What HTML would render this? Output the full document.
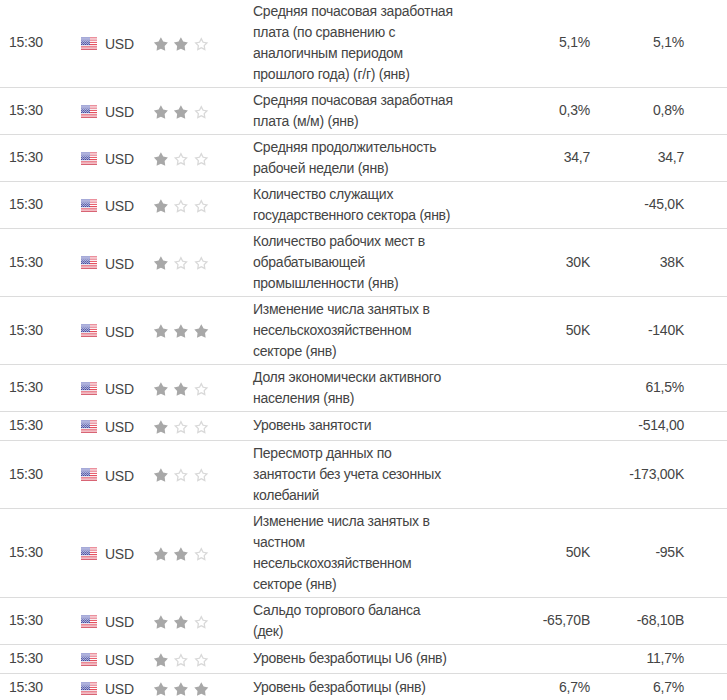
<!DOCTYPE html>
<html><head><meta charset="utf-8"><style>
html,body{margin:0;padding:0;background:#fff;width:727px;height:700px;overflow:hidden;}
body{font-family:"Liberation Sans",sans-serif;font-size:14px;color:#444;position:relative;letter-spacing:-0.25px;}
.r{position:absolute;left:0;width:727px;border-bottom:1px solid #dcdcdc;}
.c{position:absolute;top:0;bottom:0;display:flex;align-items:center;white-space:nowrap;}
.c>span{position:relative;}
.t{left:9px;}
.t>span,.v1>span,.v2>span{top:-1px;}
.f{position:absolute;left:81px;}
.flag,.stars{display:block;}
.cu{left:105px;}
.cu>span{top:1px;}
.s{position:absolute;left:150px;}
.e{left:253px;line-height:21px;display:block;}
.v1{right:137px;}
.v2{right:43px;}
</style></head><body>
<div class="r" style="top:-1px;height:88px"><div class="c t"><span>15:30</span></div><div class="f" style="top:38px"><svg class="flag" width="16" height="13" viewBox="0 0 16 13" shape-rendering="crispEdges"><rect x="0" y="0" width="9" height="1" fill="#a6aad8"/><rect x="9" y="0" width="7" height="1" fill="#eb909d"/><rect x="0" y="1" width="9" height="1" fill="#b0b3dd"/><rect x="9" y="1" width="7" height="1" fill="#f5c5cc"/><rect x="0" y="2" width="9" height="1" fill="#aaadd9"/><rect x="9" y="2" width="7" height="1" fill="#f3bec6"/><rect x="0" y="3" width="1" height="1" fill="#9397cc"/><rect x="1" y="3" width="1" height="1" fill="#a9acd8"/><rect x="2" y="3" width="1" height="1" fill="#9397cc"/><rect x="3" y="3" width="1" height="1" fill="#a9acd8"/><rect x="4" y="3" width="1" height="1" fill="#9397cc"/><rect x="5" y="3" width="1" height="1" fill="#a9acd8"/><rect x="6" y="3" width="1" height="1" fill="#9397cc"/><rect x="7" y="3" width="1" height="1" fill="#a9acd8"/><rect x="8" y="3" width="1" height="1" fill="#9397cc"/><rect x="9" y="3" width="7" height="1" fill="#ec9aa6"/><rect x="0" y="4" width="1" height="1" fill="#b4b8df"/><rect x="1" y="4" width="1" height="1" fill="#7a7fbe"/><rect x="2" y="4" width="1" height="1" fill="#b4b8df"/><rect x="3" y="4" width="1" height="1" fill="#7a7fbe"/><rect x="4" y="4" width="1" height="1" fill="#b4b8df"/><rect x="5" y="4" width="1" height="1" fill="#7a7fbe"/><rect x="6" y="4" width="1" height="1" fill="#b4b8df"/><rect x="7" y="4" width="1" height="1" fill="#7a7fbe"/><rect x="8" y="4" width="1" height="1" fill="#b4b8df"/><rect x="9" y="4" width="7" height="1" fill="#fbeef0"/><rect x="0" y="5" width="1" height="1" fill="#5a5fa8"/><rect x="1" y="5" width="1" height="1" fill="#a3a7d3"/><rect x="2" y="5" width="1" height="1" fill="#5a5fa8"/><rect x="3" y="5" width="1" height="1" fill="#a3a7d3"/><rect x="4" y="5" width="1" height="1" fill="#5a5fa8"/><rect x="5" y="5" width="1" height="1" fill="#a3a7d3"/><rect x="6" y="5" width="1" height="1" fill="#5a5fa8"/><rect x="7" y="5" width="1" height="1" fill="#a3a7d3"/><rect x="8" y="5" width="1" height="1" fill="#5a5fa8"/><rect x="9" y="5" width="7" height="1" fill="#e8606e"/><rect x="0" y="6" width="1" height="1" fill="#b0b3da"/><rect x="1" y="6" width="1" height="1" fill="#6a6fb4"/><rect x="2" y="6" width="1" height="1" fill="#b0b3da"/><rect x="3" y="6" width="1" height="1" fill="#6a6fb4"/><rect x="4" y="6" width="1" height="1" fill="#b0b3da"/><rect x="5" y="6" width="1" height="1" fill="#6a6fb4"/><rect x="6" y="6" width="1" height="1" fill="#b0b3da"/><rect x="7" y="6" width="1" height="1" fill="#6a6fb4"/><rect x="8" y="6" width="1" height="1" fill="#b0b3da"/><rect x="9" y="6" width="7" height="1" fill="#ffffff"/><rect x="0" y="7" width="1" height="1" fill="#474c9e"/><rect x="1" y="7" width="1" height="1" fill="#9a9ed0"/><rect x="2" y="7" width="1" height="1" fill="#474c9e"/><rect x="3" y="7" width="1" height="1" fill="#9a9ed0"/><rect x="4" y="7" width="1" height="1" fill="#474c9e"/><rect x="5" y="7" width="1" height="1" fill="#9a9ed0"/><rect x="6" y="7" width="1" height="1" fill="#474c9e"/><rect x="7" y="7" width="1" height="1" fill="#9a9ed0"/><rect x="8" y="7" width="1" height="1" fill="#474c9e"/><rect x="9" y="7" width="7" height="1" fill="#e4505f"/><rect x="0" y="8" width="9" height="1" fill="#e2e5f2"/><rect x="9" y="8" width="7" height="1" fill="#f9e0e4"/><rect x="0" y="9" width="16" height="1" fill="#ea8894"/><rect x="0" y="10" width="16" height="1" fill="#efaab3"/><rect x="0" y="11" width="16" height="1" fill="#f2bcc4"/><rect x="0" y="12" width="16" height="1" fill="#d86474"/></svg></div><div class="c cu"><span>USD</span></div><div class="s" style="top:36px"><svg class="stars" width="60" height="18" viewBox="150 0 60 18"><path d="M160.90 2.35 L163.22 6.50 L167.89 7.43 L164.66 10.92 L165.22 15.65 L160.90 13.65 L156.58 15.65 L157.14 10.92 L153.91 7.43 L158.58 6.50 Z" fill="#a8a8a8"/><path d="M180.90 2.35 L183.22 6.50 L187.89 7.43 L184.66 10.92 L185.22 15.65 L180.90 13.65 L176.58 15.65 L177.14 10.92 L173.91 7.43 L178.58 6.50 Z" fill="#a8a8a8"/><path d="M201.30 2.35 L203.53 6.63 L208.29 7.43 L204.91 10.87 L205.62 15.65 L201.30 13.50 L196.98 15.65 L197.69 10.87 L194.31 7.43 L199.07 6.63 Z M201.30 5.16 L199.92 7.80 L196.98 8.30 L199.07 10.43 L198.63 13.37 L201.30 12.05 L203.97 13.37 L203.53 10.43 L205.62 8.30 L202.68 7.80 Z" fill="#d9d9d9" fill-rule="evenodd"/></svg></div><div class="c e" style="top:2px">Средняя почасовая заработная<br>плата (по сравнению с<br>аналогичным периодом<br>прошлого года) (г/г) (янв)</div><div class="c v1"><span>5,1%</span></div><div class="c v2"><span>5,1%</span></div></div>
<div class="r" style="top:88px;height:46px"><div class="c t"><span>15:30</span></div><div class="f" style="top:17px"><svg class="flag" width="16" height="13" viewBox="0 0 16 13" shape-rendering="crispEdges"><rect x="0" y="0" width="9" height="1" fill="#a6aad8"/><rect x="9" y="0" width="7" height="1" fill="#eb909d"/><rect x="0" y="1" width="9" height="1" fill="#b0b3dd"/><rect x="9" y="1" width="7" height="1" fill="#f5c5cc"/><rect x="0" y="2" width="9" height="1" fill="#aaadd9"/><rect x="9" y="2" width="7" height="1" fill="#f3bec6"/><rect x="0" y="3" width="1" height="1" fill="#9397cc"/><rect x="1" y="3" width="1" height="1" fill="#a9acd8"/><rect x="2" y="3" width="1" height="1" fill="#9397cc"/><rect x="3" y="3" width="1" height="1" fill="#a9acd8"/><rect x="4" y="3" width="1" height="1" fill="#9397cc"/><rect x="5" y="3" width="1" height="1" fill="#a9acd8"/><rect x="6" y="3" width="1" height="1" fill="#9397cc"/><rect x="7" y="3" width="1" height="1" fill="#a9acd8"/><rect x="8" y="3" width="1" height="1" fill="#9397cc"/><rect x="9" y="3" width="7" height="1" fill="#ec9aa6"/><rect x="0" y="4" width="1" height="1" fill="#b4b8df"/><rect x="1" y="4" width="1" height="1" fill="#7a7fbe"/><rect x="2" y="4" width="1" height="1" fill="#b4b8df"/><rect x="3" y="4" width="1" height="1" fill="#7a7fbe"/><rect x="4" y="4" width="1" height="1" fill="#b4b8df"/><rect x="5" y="4" width="1" height="1" fill="#7a7fbe"/><rect x="6" y="4" width="1" height="1" fill="#b4b8df"/><rect x="7" y="4" width="1" height="1" fill="#7a7fbe"/><rect x="8" y="4" width="1" height="1" fill="#b4b8df"/><rect x="9" y="4" width="7" height="1" fill="#fbeef0"/><rect x="0" y="5" width="1" height="1" fill="#5a5fa8"/><rect x="1" y="5" width="1" height="1" fill="#a3a7d3"/><rect x="2" y="5" width="1" height="1" fill="#5a5fa8"/><rect x="3" y="5" width="1" height="1" fill="#a3a7d3"/><rect x="4" y="5" width="1" height="1" fill="#5a5fa8"/><rect x="5" y="5" width="1" height="1" fill="#a3a7d3"/><rect x="6" y="5" width="1" height="1" fill="#5a5fa8"/><rect x="7" y="5" width="1" height="1" fill="#a3a7d3"/><rect x="8" y="5" width="1" height="1" fill="#5a5fa8"/><rect x="9" y="5" width="7" height="1" fill="#e8606e"/><rect x="0" y="6" width="1" height="1" fill="#b0b3da"/><rect x="1" y="6" width="1" height="1" fill="#6a6fb4"/><rect x="2" y="6" width="1" height="1" fill="#b0b3da"/><rect x="3" y="6" width="1" height="1" fill="#6a6fb4"/><rect x="4" y="6" width="1" height="1" fill="#b0b3da"/><rect x="5" y="6" width="1" height="1" fill="#6a6fb4"/><rect x="6" y="6" width="1" height="1" fill="#b0b3da"/><rect x="7" y="6" width="1" height="1" fill="#6a6fb4"/><rect x="8" y="6" width="1" height="1" fill="#b0b3da"/><rect x="9" y="6" width="7" height="1" fill="#ffffff"/><rect x="0" y="7" width="1" height="1" fill="#474c9e"/><rect x="1" y="7" width="1" height="1" fill="#9a9ed0"/><rect x="2" y="7" width="1" height="1" fill="#474c9e"/><rect x="3" y="7" width="1" height="1" fill="#9a9ed0"/><rect x="4" y="7" width="1" height="1" fill="#474c9e"/><rect x="5" y="7" width="1" height="1" fill="#9a9ed0"/><rect x="6" y="7" width="1" height="1" fill="#474c9e"/><rect x="7" y="7" width="1" height="1" fill="#9a9ed0"/><rect x="8" y="7" width="1" height="1" fill="#474c9e"/><rect x="9" y="7" width="7" height="1" fill="#e4505f"/><rect x="0" y="8" width="9" height="1" fill="#e2e5f2"/><rect x="9" y="8" width="7" height="1" fill="#f9e0e4"/><rect x="0" y="9" width="16" height="1" fill="#ea8894"/><rect x="0" y="10" width="16" height="1" fill="#efaab3"/><rect x="0" y="11" width="16" height="1" fill="#f2bcc4"/><rect x="0" y="12" width="16" height="1" fill="#d86474"/></svg></div><div class="c cu"><span>USD</span></div><div class="s" style="top:15px"><svg class="stars" width="60" height="18" viewBox="150 0 60 18"><path d="M160.90 2.35 L163.22 6.50 L167.89 7.43 L164.66 10.92 L165.22 15.65 L160.90 13.65 L156.58 15.65 L157.14 10.92 L153.91 7.43 L158.58 6.50 Z" fill="#a8a8a8"/><path d="M180.90 2.35 L183.22 6.50 L187.89 7.43 L184.66 10.92 L185.22 15.65 L180.90 13.65 L176.58 15.65 L177.14 10.92 L173.91 7.43 L178.58 6.50 Z" fill="#a8a8a8"/><path d="M201.30 2.35 L203.53 6.63 L208.29 7.43 L204.91 10.87 L205.62 15.65 L201.30 13.50 L196.98 15.65 L197.69 10.87 L194.31 7.43 L199.07 6.63 Z M201.30 5.16 L199.92 7.80 L196.98 8.30 L199.07 10.43 L198.63 13.37 L201.30 12.05 L203.97 13.37 L203.53 10.43 L205.62 8.30 L202.68 7.80 Z" fill="#d9d9d9" fill-rule="evenodd"/></svg></div><div class="c e" style="top:2px">Средняя почасовая заработная<br>плата (м/м) (янв)</div><div class="c v1"><span>0,3%</span></div><div class="c v2"><span>0,8%</span></div></div>
<div class="r" style="top:135px;height:46px"><div class="c t"><span>15:30</span></div><div class="f" style="top:17px"><svg class="flag" width="16" height="13" viewBox="0 0 16 13" shape-rendering="crispEdges"><rect x="0" y="0" width="9" height="1" fill="#a6aad8"/><rect x="9" y="0" width="7" height="1" fill="#eb909d"/><rect x="0" y="1" width="9" height="1" fill="#b0b3dd"/><rect x="9" y="1" width="7" height="1" fill="#f5c5cc"/><rect x="0" y="2" width="9" height="1" fill="#aaadd9"/><rect x="9" y="2" width="7" height="1" fill="#f3bec6"/><rect x="0" y="3" width="1" height="1" fill="#9397cc"/><rect x="1" y="3" width="1" height="1" fill="#a9acd8"/><rect x="2" y="3" width="1" height="1" fill="#9397cc"/><rect x="3" y="3" width="1" height="1" fill="#a9acd8"/><rect x="4" y="3" width="1" height="1" fill="#9397cc"/><rect x="5" y="3" width="1" height="1" fill="#a9acd8"/><rect x="6" y="3" width="1" height="1" fill="#9397cc"/><rect x="7" y="3" width="1" height="1" fill="#a9acd8"/><rect x="8" y="3" width="1" height="1" fill="#9397cc"/><rect x="9" y="3" width="7" height="1" fill="#ec9aa6"/><rect x="0" y="4" width="1" height="1" fill="#b4b8df"/><rect x="1" y="4" width="1" height="1" fill="#7a7fbe"/><rect x="2" y="4" width="1" height="1" fill="#b4b8df"/><rect x="3" y="4" width="1" height="1" fill="#7a7fbe"/><rect x="4" y="4" width="1" height="1" fill="#b4b8df"/><rect x="5" y="4" width="1" height="1" fill="#7a7fbe"/><rect x="6" y="4" width="1" height="1" fill="#b4b8df"/><rect x="7" y="4" width="1" height="1" fill="#7a7fbe"/><rect x="8" y="4" width="1" height="1" fill="#b4b8df"/><rect x="9" y="4" width="7" height="1" fill="#fbeef0"/><rect x="0" y="5" width="1" height="1" fill="#5a5fa8"/><rect x="1" y="5" width="1" height="1" fill="#a3a7d3"/><rect x="2" y="5" width="1" height="1" fill="#5a5fa8"/><rect x="3" y="5" width="1" height="1" fill="#a3a7d3"/><rect x="4" y="5" width="1" height="1" fill="#5a5fa8"/><rect x="5" y="5" width="1" height="1" fill="#a3a7d3"/><rect x="6" y="5" width="1" height="1" fill="#5a5fa8"/><rect x="7" y="5" width="1" height="1" fill="#a3a7d3"/><rect x="8" y="5" width="1" height="1" fill="#5a5fa8"/><rect x="9" y="5" width="7" height="1" fill="#e8606e"/><rect x="0" y="6" width="1" height="1" fill="#b0b3da"/><rect x="1" y="6" width="1" height="1" fill="#6a6fb4"/><rect x="2" y="6" width="1" height="1" fill="#b0b3da"/><rect x="3" y="6" width="1" height="1" fill="#6a6fb4"/><rect x="4" y="6" width="1" height="1" fill="#b0b3da"/><rect x="5" y="6" width="1" height="1" fill="#6a6fb4"/><rect x="6" y="6" width="1" height="1" fill="#b0b3da"/><rect x="7" y="6" width="1" height="1" fill="#6a6fb4"/><rect x="8" y="6" width="1" height="1" fill="#b0b3da"/><rect x="9" y="6" width="7" height="1" fill="#ffffff"/><rect x="0" y="7" width="1" height="1" fill="#474c9e"/><rect x="1" y="7" width="1" height="1" fill="#9a9ed0"/><rect x="2" y="7" width="1" height="1" fill="#474c9e"/><rect x="3" y="7" width="1" height="1" fill="#9a9ed0"/><rect x="4" y="7" width="1" height="1" fill="#474c9e"/><rect x="5" y="7" width="1" height="1" fill="#9a9ed0"/><rect x="6" y="7" width="1" height="1" fill="#474c9e"/><rect x="7" y="7" width="1" height="1" fill="#9a9ed0"/><rect x="8" y="7" width="1" height="1" fill="#474c9e"/><rect x="9" y="7" width="7" height="1" fill="#e4505f"/><rect x="0" y="8" width="9" height="1" fill="#e2e5f2"/><rect x="9" y="8" width="7" height="1" fill="#f9e0e4"/><rect x="0" y="9" width="16" height="1" fill="#ea8894"/><rect x="0" y="10" width="16" height="1" fill="#efaab3"/><rect x="0" y="11" width="16" height="1" fill="#f2bcc4"/><rect x="0" y="12" width="16" height="1" fill="#d86474"/></svg></div><div class="c cu"><span>USD</span></div><div class="s" style="top:15px"><svg class="stars" width="60" height="18" viewBox="150 0 60 18"><path d="M160.90 2.35 L163.22 6.50 L167.89 7.43 L164.66 10.92 L165.22 15.65 L160.90 13.65 L156.58 15.65 L157.14 10.92 L153.91 7.43 L158.58 6.50 Z" fill="#a8a8a8"/><path d="M180.90 2.35 L183.13 6.63 L187.89 7.43 L184.51 10.87 L185.22 15.65 L180.90 13.50 L176.58 15.65 L177.29 10.87 L173.91 7.43 L178.67 6.63 Z M180.90 5.16 L179.52 7.80 L176.58 8.30 L178.67 10.43 L178.23 13.37 L180.90 12.05 L183.57 13.37 L183.13 10.43 L185.22 8.30 L182.28 7.80 Z" fill="#d9d9d9" fill-rule="evenodd"/><path d="M201.30 2.35 L203.53 6.63 L208.29 7.43 L204.91 10.87 L205.62 15.65 L201.30 13.50 L196.98 15.65 L197.69 10.87 L194.31 7.43 L199.07 6.63 Z M201.30 5.16 L199.92 7.80 L196.98 8.30 L199.07 10.43 L198.63 13.37 L201.30 12.05 L203.97 13.37 L203.53 10.43 L205.62 8.30 L202.68 7.80 Z" fill="#d9d9d9" fill-rule="evenodd"/></svg></div><div class="c e" style="top:2px">Средняя продолжительность<br>рабочей недели (янв)</div><div class="c v1"><span>34,7</span></div><div class="c v2"><span>34,7</span></div></div>
<div class="r" style="top:182px;height:46px"><div class="c t"><span>15:30</span></div><div class="f" style="top:17px"><svg class="flag" width="16" height="13" viewBox="0 0 16 13" shape-rendering="crispEdges"><rect x="0" y="0" width="9" height="1" fill="#a6aad8"/><rect x="9" y="0" width="7" height="1" fill="#eb909d"/><rect x="0" y="1" width="9" height="1" fill="#b0b3dd"/><rect x="9" y="1" width="7" height="1" fill="#f5c5cc"/><rect x="0" y="2" width="9" height="1" fill="#aaadd9"/><rect x="9" y="2" width="7" height="1" fill="#f3bec6"/><rect x="0" y="3" width="1" height="1" fill="#9397cc"/><rect x="1" y="3" width="1" height="1" fill="#a9acd8"/><rect x="2" y="3" width="1" height="1" fill="#9397cc"/><rect x="3" y="3" width="1" height="1" fill="#a9acd8"/><rect x="4" y="3" width="1" height="1" fill="#9397cc"/><rect x="5" y="3" width="1" height="1" fill="#a9acd8"/><rect x="6" y="3" width="1" height="1" fill="#9397cc"/><rect x="7" y="3" width="1" height="1" fill="#a9acd8"/><rect x="8" y="3" width="1" height="1" fill="#9397cc"/><rect x="9" y="3" width="7" height="1" fill="#ec9aa6"/><rect x="0" y="4" width="1" height="1" fill="#b4b8df"/><rect x="1" y="4" width="1" height="1" fill="#7a7fbe"/><rect x="2" y="4" width="1" height="1" fill="#b4b8df"/><rect x="3" y="4" width="1" height="1" fill="#7a7fbe"/><rect x="4" y="4" width="1" height="1" fill="#b4b8df"/><rect x="5" y="4" width="1" height="1" fill="#7a7fbe"/><rect x="6" y="4" width="1" height="1" fill="#b4b8df"/><rect x="7" y="4" width="1" height="1" fill="#7a7fbe"/><rect x="8" y="4" width="1" height="1" fill="#b4b8df"/><rect x="9" y="4" width="7" height="1" fill="#fbeef0"/><rect x="0" y="5" width="1" height="1" fill="#5a5fa8"/><rect x="1" y="5" width="1" height="1" fill="#a3a7d3"/><rect x="2" y="5" width="1" height="1" fill="#5a5fa8"/><rect x="3" y="5" width="1" height="1" fill="#a3a7d3"/><rect x="4" y="5" width="1" height="1" fill="#5a5fa8"/><rect x="5" y="5" width="1" height="1" fill="#a3a7d3"/><rect x="6" y="5" width="1" height="1" fill="#5a5fa8"/><rect x="7" y="5" width="1" height="1" fill="#a3a7d3"/><rect x="8" y="5" width="1" height="1" fill="#5a5fa8"/><rect x="9" y="5" width="7" height="1" fill="#e8606e"/><rect x="0" y="6" width="1" height="1" fill="#b0b3da"/><rect x="1" y="6" width="1" height="1" fill="#6a6fb4"/><rect x="2" y="6" width="1" height="1" fill="#b0b3da"/><rect x="3" y="6" width="1" height="1" fill="#6a6fb4"/><rect x="4" y="6" width="1" height="1" fill="#b0b3da"/><rect x="5" y="6" width="1" height="1" fill="#6a6fb4"/><rect x="6" y="6" width="1" height="1" fill="#b0b3da"/><rect x="7" y="6" width="1" height="1" fill="#6a6fb4"/><rect x="8" y="6" width="1" height="1" fill="#b0b3da"/><rect x="9" y="6" width="7" height="1" fill="#ffffff"/><rect x="0" y="7" width="1" height="1" fill="#474c9e"/><rect x="1" y="7" width="1" height="1" fill="#9a9ed0"/><rect x="2" y="7" width="1" height="1" fill="#474c9e"/><rect x="3" y="7" width="1" height="1" fill="#9a9ed0"/><rect x="4" y="7" width="1" height="1" fill="#474c9e"/><rect x="5" y="7" width="1" height="1" fill="#9a9ed0"/><rect x="6" y="7" width="1" height="1" fill="#474c9e"/><rect x="7" y="7" width="1" height="1" fill="#9a9ed0"/><rect x="8" y="7" width="1" height="1" fill="#474c9e"/><rect x="9" y="7" width="7" height="1" fill="#e4505f"/><rect x="0" y="8" width="9" height="1" fill="#e2e5f2"/><rect x="9" y="8" width="7" height="1" fill="#f9e0e4"/><rect x="0" y="9" width="16" height="1" fill="#ea8894"/><rect x="0" y="10" width="16" height="1" fill="#efaab3"/><rect x="0" y="11" width="16" height="1" fill="#f2bcc4"/><rect x="0" y="12" width="16" height="1" fill="#d86474"/></svg></div><div class="c cu"><span>USD</span></div><div class="s" style="top:15px"><svg class="stars" width="60" height="18" viewBox="150 0 60 18"><path d="M160.90 2.35 L163.22 6.50 L167.89 7.43 L164.66 10.92 L165.22 15.65 L160.90 13.65 L156.58 15.65 L157.14 10.92 L153.91 7.43 L158.58 6.50 Z" fill="#a8a8a8"/><path d="M180.90 2.35 L183.13 6.63 L187.89 7.43 L184.51 10.87 L185.22 15.65 L180.90 13.50 L176.58 15.65 L177.29 10.87 L173.91 7.43 L178.67 6.63 Z M180.90 5.16 L179.52 7.80 L176.58 8.30 L178.67 10.43 L178.23 13.37 L180.90 12.05 L183.57 13.37 L183.13 10.43 L185.22 8.30 L182.28 7.80 Z" fill="#d9d9d9" fill-rule="evenodd"/><path d="M201.30 2.35 L203.53 6.63 L208.29 7.43 L204.91 10.87 L205.62 15.65 L201.30 13.50 L196.98 15.65 L197.69 10.87 L194.31 7.43 L199.07 6.63 Z M201.30 5.16 L199.92 7.80 L196.98 8.30 L199.07 10.43 L198.63 13.37 L201.30 12.05 L203.97 13.37 L203.53 10.43 L205.62 8.30 L202.68 7.80 Z" fill="#d9d9d9" fill-rule="evenodd"/></svg></div><div class="c e" style="top:2px">Количество служащих<br>государственного сектора (янв)</div><div class="c v1"><span></span></div><div class="c v2"><span>-45,0K</span></div></div>
<div class="r" style="top:229px;height:67px"><div class="c t"><span>15:30</span></div><div class="f" style="top:27px"><svg class="flag" width="16" height="13" viewBox="0 0 16 13" shape-rendering="crispEdges"><rect x="0" y="0" width="9" height="1" fill="#a6aad8"/><rect x="9" y="0" width="7" height="1" fill="#eb909d"/><rect x="0" y="1" width="9" height="1" fill="#b0b3dd"/><rect x="9" y="1" width="7" height="1" fill="#f5c5cc"/><rect x="0" y="2" width="9" height="1" fill="#aaadd9"/><rect x="9" y="2" width="7" height="1" fill="#f3bec6"/><rect x="0" y="3" width="1" height="1" fill="#9397cc"/><rect x="1" y="3" width="1" height="1" fill="#a9acd8"/><rect x="2" y="3" width="1" height="1" fill="#9397cc"/><rect x="3" y="3" width="1" height="1" fill="#a9acd8"/><rect x="4" y="3" width="1" height="1" fill="#9397cc"/><rect x="5" y="3" width="1" height="1" fill="#a9acd8"/><rect x="6" y="3" width="1" height="1" fill="#9397cc"/><rect x="7" y="3" width="1" height="1" fill="#a9acd8"/><rect x="8" y="3" width="1" height="1" fill="#9397cc"/><rect x="9" y="3" width="7" height="1" fill="#ec9aa6"/><rect x="0" y="4" width="1" height="1" fill="#b4b8df"/><rect x="1" y="4" width="1" height="1" fill="#7a7fbe"/><rect x="2" y="4" width="1" height="1" fill="#b4b8df"/><rect x="3" y="4" width="1" height="1" fill="#7a7fbe"/><rect x="4" y="4" width="1" height="1" fill="#b4b8df"/><rect x="5" y="4" width="1" height="1" fill="#7a7fbe"/><rect x="6" y="4" width="1" height="1" fill="#b4b8df"/><rect x="7" y="4" width="1" height="1" fill="#7a7fbe"/><rect x="8" y="4" width="1" height="1" fill="#b4b8df"/><rect x="9" y="4" width="7" height="1" fill="#fbeef0"/><rect x="0" y="5" width="1" height="1" fill="#5a5fa8"/><rect x="1" y="5" width="1" height="1" fill="#a3a7d3"/><rect x="2" y="5" width="1" height="1" fill="#5a5fa8"/><rect x="3" y="5" width="1" height="1" fill="#a3a7d3"/><rect x="4" y="5" width="1" height="1" fill="#5a5fa8"/><rect x="5" y="5" width="1" height="1" fill="#a3a7d3"/><rect x="6" y="5" width="1" height="1" fill="#5a5fa8"/><rect x="7" y="5" width="1" height="1" fill="#a3a7d3"/><rect x="8" y="5" width="1" height="1" fill="#5a5fa8"/><rect x="9" y="5" width="7" height="1" fill="#e8606e"/><rect x="0" y="6" width="1" height="1" fill="#b0b3da"/><rect x="1" y="6" width="1" height="1" fill="#6a6fb4"/><rect x="2" y="6" width="1" height="1" fill="#b0b3da"/><rect x="3" y="6" width="1" height="1" fill="#6a6fb4"/><rect x="4" y="6" width="1" height="1" fill="#b0b3da"/><rect x="5" y="6" width="1" height="1" fill="#6a6fb4"/><rect x="6" y="6" width="1" height="1" fill="#b0b3da"/><rect x="7" y="6" width="1" height="1" fill="#6a6fb4"/><rect x="8" y="6" width="1" height="1" fill="#b0b3da"/><rect x="9" y="6" width="7" height="1" fill="#ffffff"/><rect x="0" y="7" width="1" height="1" fill="#474c9e"/><rect x="1" y="7" width="1" height="1" fill="#9a9ed0"/><rect x="2" y="7" width="1" height="1" fill="#474c9e"/><rect x="3" y="7" width="1" height="1" fill="#9a9ed0"/><rect x="4" y="7" width="1" height="1" fill="#474c9e"/><rect x="5" y="7" width="1" height="1" fill="#9a9ed0"/><rect x="6" y="7" width="1" height="1" fill="#474c9e"/><rect x="7" y="7" width="1" height="1" fill="#9a9ed0"/><rect x="8" y="7" width="1" height="1" fill="#474c9e"/><rect x="9" y="7" width="7" height="1" fill="#e4505f"/><rect x="0" y="8" width="9" height="1" fill="#e2e5f2"/><rect x="9" y="8" width="7" height="1" fill="#f9e0e4"/><rect x="0" y="9" width="16" height="1" fill="#ea8894"/><rect x="0" y="10" width="16" height="1" fill="#efaab3"/><rect x="0" y="11" width="16" height="1" fill="#f2bcc4"/><rect x="0" y="12" width="16" height="1" fill="#d86474"/></svg></div><div class="c cu"><span>USD</span></div><div class="s" style="top:25px"><svg class="stars" width="60" height="18" viewBox="150 0 60 18"><path d="M160.90 2.35 L163.22 6.50 L167.89 7.43 L164.66 10.92 L165.22 15.65 L160.90 13.65 L156.58 15.65 L157.14 10.92 L153.91 7.43 L158.58 6.50 Z" fill="#a8a8a8"/><path d="M180.90 2.35 L183.13 6.63 L187.89 7.43 L184.51 10.87 L185.22 15.65 L180.90 13.50 L176.58 15.65 L177.29 10.87 L173.91 7.43 L178.67 6.63 Z M180.90 5.16 L179.52 7.80 L176.58 8.30 L178.67 10.43 L178.23 13.37 L180.90 12.05 L183.57 13.37 L183.13 10.43 L185.22 8.30 L182.28 7.80 Z" fill="#d9d9d9" fill-rule="evenodd"/><path d="M201.30 2.35 L203.53 6.63 L208.29 7.43 L204.91 10.87 L205.62 15.65 L201.30 13.50 L196.98 15.65 L197.69 10.87 L194.31 7.43 L199.07 6.63 Z M201.30 5.16 L199.92 7.80 L196.98 8.30 L199.07 10.43 L198.63 13.37 L201.30 12.05 L203.97 13.37 L203.53 10.43 L205.62 8.30 L202.68 7.80 Z" fill="#d9d9d9" fill-rule="evenodd"/></svg></div><div class="c e" style="top:2px">Количество рабочих мест в<br>обрабатывающей<br>промышленности (янв)</div><div class="c v1"><span>30K</span></div><div class="c v2"><span>38K</span></div></div>
<div class="r" style="top:297px;height:67px"><div class="c t"><span>15:30</span></div><div class="f" style="top:27px"><svg class="flag" width="16" height="13" viewBox="0 0 16 13" shape-rendering="crispEdges"><rect x="0" y="0" width="9" height="1" fill="#a6aad8"/><rect x="9" y="0" width="7" height="1" fill="#eb909d"/><rect x="0" y="1" width="9" height="1" fill="#b0b3dd"/><rect x="9" y="1" width="7" height="1" fill="#f5c5cc"/><rect x="0" y="2" width="9" height="1" fill="#aaadd9"/><rect x="9" y="2" width="7" height="1" fill="#f3bec6"/><rect x="0" y="3" width="1" height="1" fill="#9397cc"/><rect x="1" y="3" width="1" height="1" fill="#a9acd8"/><rect x="2" y="3" width="1" height="1" fill="#9397cc"/><rect x="3" y="3" width="1" height="1" fill="#a9acd8"/><rect x="4" y="3" width="1" height="1" fill="#9397cc"/><rect x="5" y="3" width="1" height="1" fill="#a9acd8"/><rect x="6" y="3" width="1" height="1" fill="#9397cc"/><rect x="7" y="3" width="1" height="1" fill="#a9acd8"/><rect x="8" y="3" width="1" height="1" fill="#9397cc"/><rect x="9" y="3" width="7" height="1" fill="#ec9aa6"/><rect x="0" y="4" width="1" height="1" fill="#b4b8df"/><rect x="1" y="4" width="1" height="1" fill="#7a7fbe"/><rect x="2" y="4" width="1" height="1" fill="#b4b8df"/><rect x="3" y="4" width="1" height="1" fill="#7a7fbe"/><rect x="4" y="4" width="1" height="1" fill="#b4b8df"/><rect x="5" y="4" width="1" height="1" fill="#7a7fbe"/><rect x="6" y="4" width="1" height="1" fill="#b4b8df"/><rect x="7" y="4" width="1" height="1" fill="#7a7fbe"/><rect x="8" y="4" width="1" height="1" fill="#b4b8df"/><rect x="9" y="4" width="7" height="1" fill="#fbeef0"/><rect x="0" y="5" width="1" height="1" fill="#5a5fa8"/><rect x="1" y="5" width="1" height="1" fill="#a3a7d3"/><rect x="2" y="5" width="1" height="1" fill="#5a5fa8"/><rect x="3" y="5" width="1" height="1" fill="#a3a7d3"/><rect x="4" y="5" width="1" height="1" fill="#5a5fa8"/><rect x="5" y="5" width="1" height="1" fill="#a3a7d3"/><rect x="6" y="5" width="1" height="1" fill="#5a5fa8"/><rect x="7" y="5" width="1" height="1" fill="#a3a7d3"/><rect x="8" y="5" width="1" height="1" fill="#5a5fa8"/><rect x="9" y="5" width="7" height="1" fill="#e8606e"/><rect x="0" y="6" width="1" height="1" fill="#b0b3da"/><rect x="1" y="6" width="1" height="1" fill="#6a6fb4"/><rect x="2" y="6" width="1" height="1" fill="#b0b3da"/><rect x="3" y="6" width="1" height="1" fill="#6a6fb4"/><rect x="4" y="6" width="1" height="1" fill="#b0b3da"/><rect x="5" y="6" width="1" height="1" fill="#6a6fb4"/><rect x="6" y="6" width="1" height="1" fill="#b0b3da"/><rect x="7" y="6" width="1" height="1" fill="#6a6fb4"/><rect x="8" y="6" width="1" height="1" fill="#b0b3da"/><rect x="9" y="6" width="7" height="1" fill="#ffffff"/><rect x="0" y="7" width="1" height="1" fill="#474c9e"/><rect x="1" y="7" width="1" height="1" fill="#9a9ed0"/><rect x="2" y="7" width="1" height="1" fill="#474c9e"/><rect x="3" y="7" width="1" height="1" fill="#9a9ed0"/><rect x="4" y="7" width="1" height="1" fill="#474c9e"/><rect x="5" y="7" width="1" height="1" fill="#9a9ed0"/><rect x="6" y="7" width="1" height="1" fill="#474c9e"/><rect x="7" y="7" width="1" height="1" fill="#9a9ed0"/><rect x="8" y="7" width="1" height="1" fill="#474c9e"/><rect x="9" y="7" width="7" height="1" fill="#e4505f"/><rect x="0" y="8" width="9" height="1" fill="#e2e5f2"/><rect x="9" y="8" width="7" height="1" fill="#f9e0e4"/><rect x="0" y="9" width="16" height="1" fill="#ea8894"/><rect x="0" y="10" width="16" height="1" fill="#efaab3"/><rect x="0" y="11" width="16" height="1" fill="#f2bcc4"/><rect x="0" y="12" width="16" height="1" fill="#d86474"/></svg></div><div class="c cu"><span>USD</span></div><div class="s" style="top:25px"><svg class="stars" width="60" height="18" viewBox="150 0 60 18"><path d="M160.90 2.35 L163.22 6.50 L167.89 7.43 L164.66 10.92 L165.22 15.65 L160.90 13.65 L156.58 15.65 L157.14 10.92 L153.91 7.43 L158.58 6.50 Z" fill="#a8a8a8"/><path d="M180.90 2.35 L183.22 6.50 L187.89 7.43 L184.66 10.92 L185.22 15.65 L180.90 13.65 L176.58 15.65 L177.14 10.92 L173.91 7.43 L178.58 6.50 Z" fill="#a8a8a8"/><path d="M201.30 2.35 L203.62 6.50 L208.29 7.43 L205.06 10.92 L205.62 15.65 L201.30 13.65 L196.98 15.65 L197.54 10.92 L194.31 7.43 L198.98 6.50 Z" fill="#a8a8a8"/></svg></div><div class="c e" style="top:2px">Изменение числа занятых в<br>несельскохозяйственном<br>секторе (янв)</div><div class="c v1"><span>50K</span></div><div class="c v2"><span>-140K</span></div></div>
<div class="r" style="top:365px;height:46px"><div class="c t"><span>15:30</span></div><div class="f" style="top:17px"><svg class="flag" width="16" height="13" viewBox="0 0 16 13" shape-rendering="crispEdges"><rect x="0" y="0" width="9" height="1" fill="#a6aad8"/><rect x="9" y="0" width="7" height="1" fill="#eb909d"/><rect x="0" y="1" width="9" height="1" fill="#b0b3dd"/><rect x="9" y="1" width="7" height="1" fill="#f5c5cc"/><rect x="0" y="2" width="9" height="1" fill="#aaadd9"/><rect x="9" y="2" width="7" height="1" fill="#f3bec6"/><rect x="0" y="3" width="1" height="1" fill="#9397cc"/><rect x="1" y="3" width="1" height="1" fill="#a9acd8"/><rect x="2" y="3" width="1" height="1" fill="#9397cc"/><rect x="3" y="3" width="1" height="1" fill="#a9acd8"/><rect x="4" y="3" width="1" height="1" fill="#9397cc"/><rect x="5" y="3" width="1" height="1" fill="#a9acd8"/><rect x="6" y="3" width="1" height="1" fill="#9397cc"/><rect x="7" y="3" width="1" height="1" fill="#a9acd8"/><rect x="8" y="3" width="1" height="1" fill="#9397cc"/><rect x="9" y="3" width="7" height="1" fill="#ec9aa6"/><rect x="0" y="4" width="1" height="1" fill="#b4b8df"/><rect x="1" y="4" width="1" height="1" fill="#7a7fbe"/><rect x="2" y="4" width="1" height="1" fill="#b4b8df"/><rect x="3" y="4" width="1" height="1" fill="#7a7fbe"/><rect x="4" y="4" width="1" height="1" fill="#b4b8df"/><rect x="5" y="4" width="1" height="1" fill="#7a7fbe"/><rect x="6" y="4" width="1" height="1" fill="#b4b8df"/><rect x="7" y="4" width="1" height="1" fill="#7a7fbe"/><rect x="8" y="4" width="1" height="1" fill="#b4b8df"/><rect x="9" y="4" width="7" height="1" fill="#fbeef0"/><rect x="0" y="5" width="1" height="1" fill="#5a5fa8"/><rect x="1" y="5" width="1" height="1" fill="#a3a7d3"/><rect x="2" y="5" width="1" height="1" fill="#5a5fa8"/><rect x="3" y="5" width="1" height="1" fill="#a3a7d3"/><rect x="4" y="5" width="1" height="1" fill="#5a5fa8"/><rect x="5" y="5" width="1" height="1" fill="#a3a7d3"/><rect x="6" y="5" width="1" height="1" fill="#5a5fa8"/><rect x="7" y="5" width="1" height="1" fill="#a3a7d3"/><rect x="8" y="5" width="1" height="1" fill="#5a5fa8"/><rect x="9" y="5" width="7" height="1" fill="#e8606e"/><rect x="0" y="6" width="1" height="1" fill="#b0b3da"/><rect x="1" y="6" width="1" height="1" fill="#6a6fb4"/><rect x="2" y="6" width="1" height="1" fill="#b0b3da"/><rect x="3" y="6" width="1" height="1" fill="#6a6fb4"/><rect x="4" y="6" width="1" height="1" fill="#b0b3da"/><rect x="5" y="6" width="1" height="1" fill="#6a6fb4"/><rect x="6" y="6" width="1" height="1" fill="#b0b3da"/><rect x="7" y="6" width="1" height="1" fill="#6a6fb4"/><rect x="8" y="6" width="1" height="1" fill="#b0b3da"/><rect x="9" y="6" width="7" height="1" fill="#ffffff"/><rect x="0" y="7" width="1" height="1" fill="#474c9e"/><rect x="1" y="7" width="1" height="1" fill="#9a9ed0"/><rect x="2" y="7" width="1" height="1" fill="#474c9e"/><rect x="3" y="7" width="1" height="1" fill="#9a9ed0"/><rect x="4" y="7" width="1" height="1" fill="#474c9e"/><rect x="5" y="7" width="1" height="1" fill="#9a9ed0"/><rect x="6" y="7" width="1" height="1" fill="#474c9e"/><rect x="7" y="7" width="1" height="1" fill="#9a9ed0"/><rect x="8" y="7" width="1" height="1" fill="#474c9e"/><rect x="9" y="7" width="7" height="1" fill="#e4505f"/><rect x="0" y="8" width="9" height="1" fill="#e2e5f2"/><rect x="9" y="8" width="7" height="1" fill="#f9e0e4"/><rect x="0" y="9" width="16" height="1" fill="#ea8894"/><rect x="0" y="10" width="16" height="1" fill="#efaab3"/><rect x="0" y="11" width="16" height="1" fill="#f2bcc4"/><rect x="0" y="12" width="16" height="1" fill="#d86474"/></svg></div><div class="c cu"><span>USD</span></div><div class="s" style="top:15px"><svg class="stars" width="60" height="18" viewBox="150 0 60 18"><path d="M160.90 2.35 L163.22 6.50 L167.89 7.43 L164.66 10.92 L165.22 15.65 L160.90 13.65 L156.58 15.65 L157.14 10.92 L153.91 7.43 L158.58 6.50 Z" fill="#a8a8a8"/><path d="M180.90 2.35 L183.22 6.50 L187.89 7.43 L184.66 10.92 L185.22 15.65 L180.90 13.65 L176.58 15.65 L177.14 10.92 L173.91 7.43 L178.58 6.50 Z" fill="#a8a8a8"/><path d="M201.30 2.35 L203.53 6.63 L208.29 7.43 L204.91 10.87 L205.62 15.65 L201.30 13.50 L196.98 15.65 L197.69 10.87 L194.31 7.43 L199.07 6.63 Z M201.30 5.16 L199.92 7.80 L196.98 8.30 L199.07 10.43 L198.63 13.37 L201.30 12.05 L203.97 13.37 L203.53 10.43 L205.62 8.30 L202.68 7.80 Z" fill="#d9d9d9" fill-rule="evenodd"/></svg></div><div class="c e" style="top:2px">Доля экономически активного<br>населения (янв)</div><div class="c v1"><span></span></div><div class="c v2"><span>61,5%</span></div></div>
<div class="r" style="top:412px;height:28px"><div class="c t"><span>15:30</span></div><div class="f" style="top:8px"><svg class="flag" width="16" height="13" viewBox="0 0 16 13" shape-rendering="crispEdges"><rect x="0" y="0" width="9" height="1" fill="#a6aad8"/><rect x="9" y="0" width="7" height="1" fill="#eb909d"/><rect x="0" y="1" width="9" height="1" fill="#b0b3dd"/><rect x="9" y="1" width="7" height="1" fill="#f5c5cc"/><rect x="0" y="2" width="9" height="1" fill="#aaadd9"/><rect x="9" y="2" width="7" height="1" fill="#f3bec6"/><rect x="0" y="3" width="1" height="1" fill="#9397cc"/><rect x="1" y="3" width="1" height="1" fill="#a9acd8"/><rect x="2" y="3" width="1" height="1" fill="#9397cc"/><rect x="3" y="3" width="1" height="1" fill="#a9acd8"/><rect x="4" y="3" width="1" height="1" fill="#9397cc"/><rect x="5" y="3" width="1" height="1" fill="#a9acd8"/><rect x="6" y="3" width="1" height="1" fill="#9397cc"/><rect x="7" y="3" width="1" height="1" fill="#a9acd8"/><rect x="8" y="3" width="1" height="1" fill="#9397cc"/><rect x="9" y="3" width="7" height="1" fill="#ec9aa6"/><rect x="0" y="4" width="1" height="1" fill="#b4b8df"/><rect x="1" y="4" width="1" height="1" fill="#7a7fbe"/><rect x="2" y="4" width="1" height="1" fill="#b4b8df"/><rect x="3" y="4" width="1" height="1" fill="#7a7fbe"/><rect x="4" y="4" width="1" height="1" fill="#b4b8df"/><rect x="5" y="4" width="1" height="1" fill="#7a7fbe"/><rect x="6" y="4" width="1" height="1" fill="#b4b8df"/><rect x="7" y="4" width="1" height="1" fill="#7a7fbe"/><rect x="8" y="4" width="1" height="1" fill="#b4b8df"/><rect x="9" y="4" width="7" height="1" fill="#fbeef0"/><rect x="0" y="5" width="1" height="1" fill="#5a5fa8"/><rect x="1" y="5" width="1" height="1" fill="#a3a7d3"/><rect x="2" y="5" width="1" height="1" fill="#5a5fa8"/><rect x="3" y="5" width="1" height="1" fill="#a3a7d3"/><rect x="4" y="5" width="1" height="1" fill="#5a5fa8"/><rect x="5" y="5" width="1" height="1" fill="#a3a7d3"/><rect x="6" y="5" width="1" height="1" fill="#5a5fa8"/><rect x="7" y="5" width="1" height="1" fill="#a3a7d3"/><rect x="8" y="5" width="1" height="1" fill="#5a5fa8"/><rect x="9" y="5" width="7" height="1" fill="#e8606e"/><rect x="0" y="6" width="1" height="1" fill="#b0b3da"/><rect x="1" y="6" width="1" height="1" fill="#6a6fb4"/><rect x="2" y="6" width="1" height="1" fill="#b0b3da"/><rect x="3" y="6" width="1" height="1" fill="#6a6fb4"/><rect x="4" y="6" width="1" height="1" fill="#b0b3da"/><rect x="5" y="6" width="1" height="1" fill="#6a6fb4"/><rect x="6" y="6" width="1" height="1" fill="#b0b3da"/><rect x="7" y="6" width="1" height="1" fill="#6a6fb4"/><rect x="8" y="6" width="1" height="1" fill="#b0b3da"/><rect x="9" y="6" width="7" height="1" fill="#ffffff"/><rect x="0" y="7" width="1" height="1" fill="#474c9e"/><rect x="1" y="7" width="1" height="1" fill="#9a9ed0"/><rect x="2" y="7" width="1" height="1" fill="#474c9e"/><rect x="3" y="7" width="1" height="1" fill="#9a9ed0"/><rect x="4" y="7" width="1" height="1" fill="#474c9e"/><rect x="5" y="7" width="1" height="1" fill="#9a9ed0"/><rect x="6" y="7" width="1" height="1" fill="#474c9e"/><rect x="7" y="7" width="1" height="1" fill="#9a9ed0"/><rect x="8" y="7" width="1" height="1" fill="#474c9e"/><rect x="9" y="7" width="7" height="1" fill="#e4505f"/><rect x="0" y="8" width="9" height="1" fill="#e2e5f2"/><rect x="9" y="8" width="7" height="1" fill="#f9e0e4"/><rect x="0" y="9" width="16" height="1" fill="#ea8894"/><rect x="0" y="10" width="16" height="1" fill="#efaab3"/><rect x="0" y="11" width="16" height="1" fill="#f2bcc4"/><rect x="0" y="12" width="16" height="1" fill="#d86474"/></svg></div><div class="c cu"><span>USD</span></div><div class="s" style="top:6px"><svg class="stars" width="60" height="18" viewBox="150 0 60 18"><path d="M160.90 2.35 L163.22 6.50 L167.89 7.43 L164.66 10.92 L165.22 15.65 L160.90 13.65 L156.58 15.65 L157.14 10.92 L153.91 7.43 L158.58 6.50 Z" fill="#a8a8a8"/><path d="M180.90 2.35 L183.13 6.63 L187.89 7.43 L184.51 10.87 L185.22 15.65 L180.90 13.50 L176.58 15.65 L177.29 10.87 L173.91 7.43 L178.67 6.63 Z M180.90 5.16 L179.52 7.80 L176.58 8.30 L178.67 10.43 L178.23 13.37 L180.90 12.05 L183.57 13.37 L183.13 10.43 L185.22 8.30 L182.28 7.80 Z" fill="#d9d9d9" fill-rule="evenodd"/><path d="M201.30 2.35 L203.53 6.63 L208.29 7.43 L204.91 10.87 L205.62 15.65 L201.30 13.50 L196.98 15.65 L197.69 10.87 L194.31 7.43 L199.07 6.63 Z M201.30 5.16 L199.92 7.80 L196.98 8.30 L199.07 10.43 L198.63 13.37 L201.30 12.05 L203.97 13.37 L203.53 10.43 L205.62 8.30 L202.68 7.80 Z" fill="#d9d9d9" fill-rule="evenodd"/></svg></div><div class="c e" style="top:3px">Уровень занятости</div><div class="c v1"><span></span></div><div class="c v2"><span>-514,00</span></div></div>
<div class="r" style="top:441px;height:67px"><div class="c t"><span>15:30</span></div><div class="f" style="top:27px"><svg class="flag" width="16" height="13" viewBox="0 0 16 13" shape-rendering="crispEdges"><rect x="0" y="0" width="9" height="1" fill="#a6aad8"/><rect x="9" y="0" width="7" height="1" fill="#eb909d"/><rect x="0" y="1" width="9" height="1" fill="#b0b3dd"/><rect x="9" y="1" width="7" height="1" fill="#f5c5cc"/><rect x="0" y="2" width="9" height="1" fill="#aaadd9"/><rect x="9" y="2" width="7" height="1" fill="#f3bec6"/><rect x="0" y="3" width="1" height="1" fill="#9397cc"/><rect x="1" y="3" width="1" height="1" fill="#a9acd8"/><rect x="2" y="3" width="1" height="1" fill="#9397cc"/><rect x="3" y="3" width="1" height="1" fill="#a9acd8"/><rect x="4" y="3" width="1" height="1" fill="#9397cc"/><rect x="5" y="3" width="1" height="1" fill="#a9acd8"/><rect x="6" y="3" width="1" height="1" fill="#9397cc"/><rect x="7" y="3" width="1" height="1" fill="#a9acd8"/><rect x="8" y="3" width="1" height="1" fill="#9397cc"/><rect x="9" y="3" width="7" height="1" fill="#ec9aa6"/><rect x="0" y="4" width="1" height="1" fill="#b4b8df"/><rect x="1" y="4" width="1" height="1" fill="#7a7fbe"/><rect x="2" y="4" width="1" height="1" fill="#b4b8df"/><rect x="3" y="4" width="1" height="1" fill="#7a7fbe"/><rect x="4" y="4" width="1" height="1" fill="#b4b8df"/><rect x="5" y="4" width="1" height="1" fill="#7a7fbe"/><rect x="6" y="4" width="1" height="1" fill="#b4b8df"/><rect x="7" y="4" width="1" height="1" fill="#7a7fbe"/><rect x="8" y="4" width="1" height="1" fill="#b4b8df"/><rect x="9" y="4" width="7" height="1" fill="#fbeef0"/><rect x="0" y="5" width="1" height="1" fill="#5a5fa8"/><rect x="1" y="5" width="1" height="1" fill="#a3a7d3"/><rect x="2" y="5" width="1" height="1" fill="#5a5fa8"/><rect x="3" y="5" width="1" height="1" fill="#a3a7d3"/><rect x="4" y="5" width="1" height="1" fill="#5a5fa8"/><rect x="5" y="5" width="1" height="1" fill="#a3a7d3"/><rect x="6" y="5" width="1" height="1" fill="#5a5fa8"/><rect x="7" y="5" width="1" height="1" fill="#a3a7d3"/><rect x="8" y="5" width="1" height="1" fill="#5a5fa8"/><rect x="9" y="5" width="7" height="1" fill="#e8606e"/><rect x="0" y="6" width="1" height="1" fill="#b0b3da"/><rect x="1" y="6" width="1" height="1" fill="#6a6fb4"/><rect x="2" y="6" width="1" height="1" fill="#b0b3da"/><rect x="3" y="6" width="1" height="1" fill="#6a6fb4"/><rect x="4" y="6" width="1" height="1" fill="#b0b3da"/><rect x="5" y="6" width="1" height="1" fill="#6a6fb4"/><rect x="6" y="6" width="1" height="1" fill="#b0b3da"/><rect x="7" y="6" width="1" height="1" fill="#6a6fb4"/><rect x="8" y="6" width="1" height="1" fill="#b0b3da"/><rect x="9" y="6" width="7" height="1" fill="#ffffff"/><rect x="0" y="7" width="1" height="1" fill="#474c9e"/><rect x="1" y="7" width="1" height="1" fill="#9a9ed0"/><rect x="2" y="7" width="1" height="1" fill="#474c9e"/><rect x="3" y="7" width="1" height="1" fill="#9a9ed0"/><rect x="4" y="7" width="1" height="1" fill="#474c9e"/><rect x="5" y="7" width="1" height="1" fill="#9a9ed0"/><rect x="6" y="7" width="1" height="1" fill="#474c9e"/><rect x="7" y="7" width="1" height="1" fill="#9a9ed0"/><rect x="8" y="7" width="1" height="1" fill="#474c9e"/><rect x="9" y="7" width="7" height="1" fill="#e4505f"/><rect x="0" y="8" width="9" height="1" fill="#e2e5f2"/><rect x="9" y="8" width="7" height="1" fill="#f9e0e4"/><rect x="0" y="9" width="16" height="1" fill="#ea8894"/><rect x="0" y="10" width="16" height="1" fill="#efaab3"/><rect x="0" y="11" width="16" height="1" fill="#f2bcc4"/><rect x="0" y="12" width="16" height="1" fill="#d86474"/></svg></div><div class="c cu"><span>USD</span></div><div class="s" style="top:25px"><svg class="stars" width="60" height="18" viewBox="150 0 60 18"><path d="M160.90 2.35 L163.22 6.50 L167.89 7.43 L164.66 10.92 L165.22 15.65 L160.90 13.65 L156.58 15.65 L157.14 10.92 L153.91 7.43 L158.58 6.50 Z" fill="#a8a8a8"/><path d="M180.90 2.35 L183.13 6.63 L187.89 7.43 L184.51 10.87 L185.22 15.65 L180.90 13.50 L176.58 15.65 L177.29 10.87 L173.91 7.43 L178.67 6.63 Z M180.90 5.16 L179.52 7.80 L176.58 8.30 L178.67 10.43 L178.23 13.37 L180.90 12.05 L183.57 13.37 L183.13 10.43 L185.22 8.30 L182.28 7.80 Z" fill="#d9d9d9" fill-rule="evenodd"/><path d="M201.30 2.35 L203.53 6.63 L208.29 7.43 L204.91 10.87 L205.62 15.65 L201.30 13.50 L196.98 15.65 L197.69 10.87 L194.31 7.43 L199.07 6.63 Z M201.30 5.16 L199.92 7.80 L196.98 8.30 L199.07 10.43 L198.63 13.37 L201.30 12.05 L203.97 13.37 L203.53 10.43 L205.62 8.30 L202.68 7.80 Z" fill="#d9d9d9" fill-rule="evenodd"/></svg></div><div class="c e" style="top:2px">Пересмотр данных по<br>занятости без учета сезонных<br>колебаний</div><div class="c v1"><span></span></div><div class="c v2"><span>-173,00K</span></div></div>
<div class="r" style="top:509px;height:88px"><div class="c t"><span>15:30</span></div><div class="f" style="top:38px"><svg class="flag" width="16" height="13" viewBox="0 0 16 13" shape-rendering="crispEdges"><rect x="0" y="0" width="9" height="1" fill="#a6aad8"/><rect x="9" y="0" width="7" height="1" fill="#eb909d"/><rect x="0" y="1" width="9" height="1" fill="#b0b3dd"/><rect x="9" y="1" width="7" height="1" fill="#f5c5cc"/><rect x="0" y="2" width="9" height="1" fill="#aaadd9"/><rect x="9" y="2" width="7" height="1" fill="#f3bec6"/><rect x="0" y="3" width="1" height="1" fill="#9397cc"/><rect x="1" y="3" width="1" height="1" fill="#a9acd8"/><rect x="2" y="3" width="1" height="1" fill="#9397cc"/><rect x="3" y="3" width="1" height="1" fill="#a9acd8"/><rect x="4" y="3" width="1" height="1" fill="#9397cc"/><rect x="5" y="3" width="1" height="1" fill="#a9acd8"/><rect x="6" y="3" width="1" height="1" fill="#9397cc"/><rect x="7" y="3" width="1" height="1" fill="#a9acd8"/><rect x="8" y="3" width="1" height="1" fill="#9397cc"/><rect x="9" y="3" width="7" height="1" fill="#ec9aa6"/><rect x="0" y="4" width="1" height="1" fill="#b4b8df"/><rect x="1" y="4" width="1" height="1" fill="#7a7fbe"/><rect x="2" y="4" width="1" height="1" fill="#b4b8df"/><rect x="3" y="4" width="1" height="1" fill="#7a7fbe"/><rect x="4" y="4" width="1" height="1" fill="#b4b8df"/><rect x="5" y="4" width="1" height="1" fill="#7a7fbe"/><rect x="6" y="4" width="1" height="1" fill="#b4b8df"/><rect x="7" y="4" width="1" height="1" fill="#7a7fbe"/><rect x="8" y="4" width="1" height="1" fill="#b4b8df"/><rect x="9" y="4" width="7" height="1" fill="#fbeef0"/><rect x="0" y="5" width="1" height="1" fill="#5a5fa8"/><rect x="1" y="5" width="1" height="1" fill="#a3a7d3"/><rect x="2" y="5" width="1" height="1" fill="#5a5fa8"/><rect x="3" y="5" width="1" height="1" fill="#a3a7d3"/><rect x="4" y="5" width="1" height="1" fill="#5a5fa8"/><rect x="5" y="5" width="1" height="1" fill="#a3a7d3"/><rect x="6" y="5" width="1" height="1" fill="#5a5fa8"/><rect x="7" y="5" width="1" height="1" fill="#a3a7d3"/><rect x="8" y="5" width="1" height="1" fill="#5a5fa8"/><rect x="9" y="5" width="7" height="1" fill="#e8606e"/><rect x="0" y="6" width="1" height="1" fill="#b0b3da"/><rect x="1" y="6" width="1" height="1" fill="#6a6fb4"/><rect x="2" y="6" width="1" height="1" fill="#b0b3da"/><rect x="3" y="6" width="1" height="1" fill="#6a6fb4"/><rect x="4" y="6" width="1" height="1" fill="#b0b3da"/><rect x="5" y="6" width="1" height="1" fill="#6a6fb4"/><rect x="6" y="6" width="1" height="1" fill="#b0b3da"/><rect x="7" y="6" width="1" height="1" fill="#6a6fb4"/><rect x="8" y="6" width="1" height="1" fill="#b0b3da"/><rect x="9" y="6" width="7" height="1" fill="#ffffff"/><rect x="0" y="7" width="1" height="1" fill="#474c9e"/><rect x="1" y="7" width="1" height="1" fill="#9a9ed0"/><rect x="2" y="7" width="1" height="1" fill="#474c9e"/><rect x="3" y="7" width="1" height="1" fill="#9a9ed0"/><rect x="4" y="7" width="1" height="1" fill="#474c9e"/><rect x="5" y="7" width="1" height="1" fill="#9a9ed0"/><rect x="6" y="7" width="1" height="1" fill="#474c9e"/><rect x="7" y="7" width="1" height="1" fill="#9a9ed0"/><rect x="8" y="7" width="1" height="1" fill="#474c9e"/><rect x="9" y="7" width="7" height="1" fill="#e4505f"/><rect x="0" y="8" width="9" height="1" fill="#e2e5f2"/><rect x="9" y="8" width="7" height="1" fill="#f9e0e4"/><rect x="0" y="9" width="16" height="1" fill="#ea8894"/><rect x="0" y="10" width="16" height="1" fill="#efaab3"/><rect x="0" y="11" width="16" height="1" fill="#f2bcc4"/><rect x="0" y="12" width="16" height="1" fill="#d86474"/></svg></div><div class="c cu"><span>USD</span></div><div class="s" style="top:36px"><svg class="stars" width="60" height="18" viewBox="150 0 60 18"><path d="M160.90 2.35 L163.22 6.50 L167.89 7.43 L164.66 10.92 L165.22 15.65 L160.90 13.65 L156.58 15.65 L157.14 10.92 L153.91 7.43 L158.58 6.50 Z" fill="#a8a8a8"/><path d="M180.90 2.35 L183.22 6.50 L187.89 7.43 L184.66 10.92 L185.22 15.65 L180.90 13.65 L176.58 15.65 L177.14 10.92 L173.91 7.43 L178.58 6.50 Z" fill="#a8a8a8"/><path d="M201.30 2.35 L203.53 6.63 L208.29 7.43 L204.91 10.87 L205.62 15.65 L201.30 13.50 L196.98 15.65 L197.69 10.87 L194.31 7.43 L199.07 6.63 Z M201.30 5.16 L199.92 7.80 L196.98 8.30 L199.07 10.43 L198.63 13.37 L201.30 12.05 L203.97 13.37 L203.53 10.43 L205.62 8.30 L202.68 7.80 Z" fill="#d9d9d9" fill-rule="evenodd"/></svg></div><div class="c e" style="top:2px">Изменение числа занятых в<br>частном<br>несельскохозяйственном<br>секторе (янв)</div><div class="c v1"><span>50K</span></div><div class="c v2"><span>-95K</span></div></div>
<div class="r" style="top:598px;height:46px"><div class="c t"><span>15:30</span></div><div class="f" style="top:17px"><svg class="flag" width="16" height="13" viewBox="0 0 16 13" shape-rendering="crispEdges"><rect x="0" y="0" width="9" height="1" fill="#a6aad8"/><rect x="9" y="0" width="7" height="1" fill="#eb909d"/><rect x="0" y="1" width="9" height="1" fill="#b0b3dd"/><rect x="9" y="1" width="7" height="1" fill="#f5c5cc"/><rect x="0" y="2" width="9" height="1" fill="#aaadd9"/><rect x="9" y="2" width="7" height="1" fill="#f3bec6"/><rect x="0" y="3" width="1" height="1" fill="#9397cc"/><rect x="1" y="3" width="1" height="1" fill="#a9acd8"/><rect x="2" y="3" width="1" height="1" fill="#9397cc"/><rect x="3" y="3" width="1" height="1" fill="#a9acd8"/><rect x="4" y="3" width="1" height="1" fill="#9397cc"/><rect x="5" y="3" width="1" height="1" fill="#a9acd8"/><rect x="6" y="3" width="1" height="1" fill="#9397cc"/><rect x="7" y="3" width="1" height="1" fill="#a9acd8"/><rect x="8" y="3" width="1" height="1" fill="#9397cc"/><rect x="9" y="3" width="7" height="1" fill="#ec9aa6"/><rect x="0" y="4" width="1" height="1" fill="#b4b8df"/><rect x="1" y="4" width="1" height="1" fill="#7a7fbe"/><rect x="2" y="4" width="1" height="1" fill="#b4b8df"/><rect x="3" y="4" width="1" height="1" fill="#7a7fbe"/><rect x="4" y="4" width="1" height="1" fill="#b4b8df"/><rect x="5" y="4" width="1" height="1" fill="#7a7fbe"/><rect x="6" y="4" width="1" height="1" fill="#b4b8df"/><rect x="7" y="4" width="1" height="1" fill="#7a7fbe"/><rect x="8" y="4" width="1" height="1" fill="#b4b8df"/><rect x="9" y="4" width="7" height="1" fill="#fbeef0"/><rect x="0" y="5" width="1" height="1" fill="#5a5fa8"/><rect x="1" y="5" width="1" height="1" fill="#a3a7d3"/><rect x="2" y="5" width="1" height="1" fill="#5a5fa8"/><rect x="3" y="5" width="1" height="1" fill="#a3a7d3"/><rect x="4" y="5" width="1" height="1" fill="#5a5fa8"/><rect x="5" y="5" width="1" height="1" fill="#a3a7d3"/><rect x="6" y="5" width="1" height="1" fill="#5a5fa8"/><rect x="7" y="5" width="1" height="1" fill="#a3a7d3"/><rect x="8" y="5" width="1" height="1" fill="#5a5fa8"/><rect x="9" y="5" width="7" height="1" fill="#e8606e"/><rect x="0" y="6" width="1" height="1" fill="#b0b3da"/><rect x="1" y="6" width="1" height="1" fill="#6a6fb4"/><rect x="2" y="6" width="1" height="1" fill="#b0b3da"/><rect x="3" y="6" width="1" height="1" fill="#6a6fb4"/><rect x="4" y="6" width="1" height="1" fill="#b0b3da"/><rect x="5" y="6" width="1" height="1" fill="#6a6fb4"/><rect x="6" y="6" width="1" height="1" fill="#b0b3da"/><rect x="7" y="6" width="1" height="1" fill="#6a6fb4"/><rect x="8" y="6" width="1" height="1" fill="#b0b3da"/><rect x="9" y="6" width="7" height="1" fill="#ffffff"/><rect x="0" y="7" width="1" height="1" fill="#474c9e"/><rect x="1" y="7" width="1" height="1" fill="#9a9ed0"/><rect x="2" y="7" width="1" height="1" fill="#474c9e"/><rect x="3" y="7" width="1" height="1" fill="#9a9ed0"/><rect x="4" y="7" width="1" height="1" fill="#474c9e"/><rect x="5" y="7" width="1" height="1" fill="#9a9ed0"/><rect x="6" y="7" width="1" height="1" fill="#474c9e"/><rect x="7" y="7" width="1" height="1" fill="#9a9ed0"/><rect x="8" y="7" width="1" height="1" fill="#474c9e"/><rect x="9" y="7" width="7" height="1" fill="#e4505f"/><rect x="0" y="8" width="9" height="1" fill="#e2e5f2"/><rect x="9" y="8" width="7" height="1" fill="#f9e0e4"/><rect x="0" y="9" width="16" height="1" fill="#ea8894"/><rect x="0" y="10" width="16" height="1" fill="#efaab3"/><rect x="0" y="11" width="16" height="1" fill="#f2bcc4"/><rect x="0" y="12" width="16" height="1" fill="#d86474"/></svg></div><div class="c cu"><span>USD</span></div><div class="s" style="top:15px"><svg class="stars" width="60" height="18" viewBox="150 0 60 18"><path d="M160.90 2.35 L163.22 6.50 L167.89 7.43 L164.66 10.92 L165.22 15.65 L160.90 13.65 L156.58 15.65 L157.14 10.92 L153.91 7.43 L158.58 6.50 Z" fill="#a8a8a8"/><path d="M180.90 2.35 L183.22 6.50 L187.89 7.43 L184.66 10.92 L185.22 15.65 L180.90 13.65 L176.58 15.65 L177.14 10.92 L173.91 7.43 L178.58 6.50 Z" fill="#a8a8a8"/><path d="M201.30 2.35 L203.53 6.63 L208.29 7.43 L204.91 10.87 L205.62 15.65 L201.30 13.50 L196.98 15.65 L197.69 10.87 L194.31 7.43 L199.07 6.63 Z M201.30 5.16 L199.92 7.80 L196.98 8.30 L199.07 10.43 L198.63 13.37 L201.30 12.05 L203.97 13.37 L203.53 10.43 L205.62 8.30 L202.68 7.80 Z" fill="#d9d9d9" fill-rule="evenodd"/></svg></div><div class="c e" style="top:2px">Сальдо торгового баланса<br>(дек)</div><div class="c v1"><span>-65,70B</span></div><div class="c v2"><span>-68,10B</span></div></div>
<div class="r" style="top:645px;height:28px"><div class="c t"><span>15:30</span></div><div class="f" style="top:8px"><svg class="flag" width="16" height="13" viewBox="0 0 16 13" shape-rendering="crispEdges"><rect x="0" y="0" width="9" height="1" fill="#a6aad8"/><rect x="9" y="0" width="7" height="1" fill="#eb909d"/><rect x="0" y="1" width="9" height="1" fill="#b0b3dd"/><rect x="9" y="1" width="7" height="1" fill="#f5c5cc"/><rect x="0" y="2" width="9" height="1" fill="#aaadd9"/><rect x="9" y="2" width="7" height="1" fill="#f3bec6"/><rect x="0" y="3" width="1" height="1" fill="#9397cc"/><rect x="1" y="3" width="1" height="1" fill="#a9acd8"/><rect x="2" y="3" width="1" height="1" fill="#9397cc"/><rect x="3" y="3" width="1" height="1" fill="#a9acd8"/><rect x="4" y="3" width="1" height="1" fill="#9397cc"/><rect x="5" y="3" width="1" height="1" fill="#a9acd8"/><rect x="6" y="3" width="1" height="1" fill="#9397cc"/><rect x="7" y="3" width="1" height="1" fill="#a9acd8"/><rect x="8" y="3" width="1" height="1" fill="#9397cc"/><rect x="9" y="3" width="7" height="1" fill="#ec9aa6"/><rect x="0" y="4" width="1" height="1" fill="#b4b8df"/><rect x="1" y="4" width="1" height="1" fill="#7a7fbe"/><rect x="2" y="4" width="1" height="1" fill="#b4b8df"/><rect x="3" y="4" width="1" height="1" fill="#7a7fbe"/><rect x="4" y="4" width="1" height="1" fill="#b4b8df"/><rect x="5" y="4" width="1" height="1" fill="#7a7fbe"/><rect x="6" y="4" width="1" height="1" fill="#b4b8df"/><rect x="7" y="4" width="1" height="1" fill="#7a7fbe"/><rect x="8" y="4" width="1" height="1" fill="#b4b8df"/><rect x="9" y="4" width="7" height="1" fill="#fbeef0"/><rect x="0" y="5" width="1" height="1" fill="#5a5fa8"/><rect x="1" y="5" width="1" height="1" fill="#a3a7d3"/><rect x="2" y="5" width="1" height="1" fill="#5a5fa8"/><rect x="3" y="5" width="1" height="1" fill="#a3a7d3"/><rect x="4" y="5" width="1" height="1" fill="#5a5fa8"/><rect x="5" y="5" width="1" height="1" fill="#a3a7d3"/><rect x="6" y="5" width="1" height="1" fill="#5a5fa8"/><rect x="7" y="5" width="1" height="1" fill="#a3a7d3"/><rect x="8" y="5" width="1" height="1" fill="#5a5fa8"/><rect x="9" y="5" width="7" height="1" fill="#e8606e"/><rect x="0" y="6" width="1" height="1" fill="#b0b3da"/><rect x="1" y="6" width="1" height="1" fill="#6a6fb4"/><rect x="2" y="6" width="1" height="1" fill="#b0b3da"/><rect x="3" y="6" width="1" height="1" fill="#6a6fb4"/><rect x="4" y="6" width="1" height="1" fill="#b0b3da"/><rect x="5" y="6" width="1" height="1" fill="#6a6fb4"/><rect x="6" y="6" width="1" height="1" fill="#b0b3da"/><rect x="7" y="6" width="1" height="1" fill="#6a6fb4"/><rect x="8" y="6" width="1" height="1" fill="#b0b3da"/><rect x="9" y="6" width="7" height="1" fill="#ffffff"/><rect x="0" y="7" width="1" height="1" fill="#474c9e"/><rect x="1" y="7" width="1" height="1" fill="#9a9ed0"/><rect x="2" y="7" width="1" height="1" fill="#474c9e"/><rect x="3" y="7" width="1" height="1" fill="#9a9ed0"/><rect x="4" y="7" width="1" height="1" fill="#474c9e"/><rect x="5" y="7" width="1" height="1" fill="#9a9ed0"/><rect x="6" y="7" width="1" height="1" fill="#474c9e"/><rect x="7" y="7" width="1" height="1" fill="#9a9ed0"/><rect x="8" y="7" width="1" height="1" fill="#474c9e"/><rect x="9" y="7" width="7" height="1" fill="#e4505f"/><rect x="0" y="8" width="9" height="1" fill="#e2e5f2"/><rect x="9" y="8" width="7" height="1" fill="#f9e0e4"/><rect x="0" y="9" width="16" height="1" fill="#ea8894"/><rect x="0" y="10" width="16" height="1" fill="#efaab3"/><rect x="0" y="11" width="16" height="1" fill="#f2bcc4"/><rect x="0" y="12" width="16" height="1" fill="#d86474"/></svg></div><div class="c cu"><span>USD</span></div><div class="s" style="top:6px"><svg class="stars" width="60" height="18" viewBox="150 0 60 18"><path d="M160.90 2.35 L163.22 6.50 L167.89 7.43 L164.66 10.92 L165.22 15.65 L160.90 13.65 L156.58 15.65 L157.14 10.92 L153.91 7.43 L158.58 6.50 Z" fill="#a8a8a8"/><path d="M180.90 2.35 L183.13 6.63 L187.89 7.43 L184.51 10.87 L185.22 15.65 L180.90 13.50 L176.58 15.65 L177.29 10.87 L173.91 7.43 L178.67 6.63 Z M180.90 5.16 L179.52 7.80 L176.58 8.30 L178.67 10.43 L178.23 13.37 L180.90 12.05 L183.57 13.37 L183.13 10.43 L185.22 8.30 L182.28 7.80 Z" fill="#d9d9d9" fill-rule="evenodd"/><path d="M201.30 2.35 L203.53 6.63 L208.29 7.43 L204.91 10.87 L205.62 15.65 L201.30 13.50 L196.98 15.65 L197.69 10.87 L194.31 7.43 L199.07 6.63 Z M201.30 5.16 L199.92 7.80 L196.98 8.30 L199.07 10.43 L198.63 13.37 L201.30 12.05 L203.97 13.37 L203.53 10.43 L205.62 8.30 L202.68 7.80 Z" fill="#d9d9d9" fill-rule="evenodd"/></svg></div><div class="c e" style="top:3px">Уровень безработицы U6 (янв)</div><div class="c v1"><span></span></div><div class="c v2"><span>11,7%</span></div></div>
<div class="r" style="top:674px;height:28px"><div class="c t"><span>15:30</span></div><div class="f" style="top:8px"><svg class="flag" width="16" height="13" viewBox="0 0 16 13" shape-rendering="crispEdges"><rect x="0" y="0" width="9" height="1" fill="#a6aad8"/><rect x="9" y="0" width="7" height="1" fill="#eb909d"/><rect x="0" y="1" width="9" height="1" fill="#b0b3dd"/><rect x="9" y="1" width="7" height="1" fill="#f5c5cc"/><rect x="0" y="2" width="9" height="1" fill="#aaadd9"/><rect x="9" y="2" width="7" height="1" fill="#f3bec6"/><rect x="0" y="3" width="1" height="1" fill="#9397cc"/><rect x="1" y="3" width="1" height="1" fill="#a9acd8"/><rect x="2" y="3" width="1" height="1" fill="#9397cc"/><rect x="3" y="3" width="1" height="1" fill="#a9acd8"/><rect x="4" y="3" width="1" height="1" fill="#9397cc"/><rect x="5" y="3" width="1" height="1" fill="#a9acd8"/><rect x="6" y="3" width="1" height="1" fill="#9397cc"/><rect x="7" y="3" width="1" height="1" fill="#a9acd8"/><rect x="8" y="3" width="1" height="1" fill="#9397cc"/><rect x="9" y="3" width="7" height="1" fill="#ec9aa6"/><rect x="0" y="4" width="1" height="1" fill="#b4b8df"/><rect x="1" y="4" width="1" height="1" fill="#7a7fbe"/><rect x="2" y="4" width="1" height="1" fill="#b4b8df"/><rect x="3" y="4" width="1" height="1" fill="#7a7fbe"/><rect x="4" y="4" width="1" height="1" fill="#b4b8df"/><rect x="5" y="4" width="1" height="1" fill="#7a7fbe"/><rect x="6" y="4" width="1" height="1" fill="#b4b8df"/><rect x="7" y="4" width="1" height="1" fill="#7a7fbe"/><rect x="8" y="4" width="1" height="1" fill="#b4b8df"/><rect x="9" y="4" width="7" height="1" fill="#fbeef0"/><rect x="0" y="5" width="1" height="1" fill="#5a5fa8"/><rect x="1" y="5" width="1" height="1" fill="#a3a7d3"/><rect x="2" y="5" width="1" height="1" fill="#5a5fa8"/><rect x="3" y="5" width="1" height="1" fill="#a3a7d3"/><rect x="4" y="5" width="1" height="1" fill="#5a5fa8"/><rect x="5" y="5" width="1" height="1" fill="#a3a7d3"/><rect x="6" y="5" width="1" height="1" fill="#5a5fa8"/><rect x="7" y="5" width="1" height="1" fill="#a3a7d3"/><rect x="8" y="5" width="1" height="1" fill="#5a5fa8"/><rect x="9" y="5" width="7" height="1" fill="#e8606e"/><rect x="0" y="6" width="1" height="1" fill="#b0b3da"/><rect x="1" y="6" width="1" height="1" fill="#6a6fb4"/><rect x="2" y="6" width="1" height="1" fill="#b0b3da"/><rect x="3" y="6" width="1" height="1" fill="#6a6fb4"/><rect x="4" y="6" width="1" height="1" fill="#b0b3da"/><rect x="5" y="6" width="1" height="1" fill="#6a6fb4"/><rect x="6" y="6" width="1" height="1" fill="#b0b3da"/><rect x="7" y="6" width="1" height="1" fill="#6a6fb4"/><rect x="8" y="6" width="1" height="1" fill="#b0b3da"/><rect x="9" y="6" width="7" height="1" fill="#ffffff"/><rect x="0" y="7" width="1" height="1" fill="#474c9e"/><rect x="1" y="7" width="1" height="1" fill="#9a9ed0"/><rect x="2" y="7" width="1" height="1" fill="#474c9e"/><rect x="3" y="7" width="1" height="1" fill="#9a9ed0"/><rect x="4" y="7" width="1" height="1" fill="#474c9e"/><rect x="5" y="7" width="1" height="1" fill="#9a9ed0"/><rect x="6" y="7" width="1" height="1" fill="#474c9e"/><rect x="7" y="7" width="1" height="1" fill="#9a9ed0"/><rect x="8" y="7" width="1" height="1" fill="#474c9e"/><rect x="9" y="7" width="7" height="1" fill="#e4505f"/><rect x="0" y="8" width="9" height="1" fill="#e2e5f2"/><rect x="9" y="8" width="7" height="1" fill="#f9e0e4"/><rect x="0" y="9" width="16" height="1" fill="#ea8894"/><rect x="0" y="10" width="16" height="1" fill="#efaab3"/><rect x="0" y="11" width="16" height="1" fill="#f2bcc4"/><rect x="0" y="12" width="16" height="1" fill="#d86474"/></svg></div><div class="c cu"><span>USD</span></div><div class="s" style="top:6px"><svg class="stars" width="60" height="18" viewBox="150 0 60 18"><path d="M160.90 2.35 L163.22 6.50 L167.89 7.43 L164.66 10.92 L165.22 15.65 L160.90 13.65 L156.58 15.65 L157.14 10.92 L153.91 7.43 L158.58 6.50 Z" fill="#a8a8a8"/><path d="M180.90 2.35 L183.22 6.50 L187.89 7.43 L184.66 10.92 L185.22 15.65 L180.90 13.65 L176.58 15.65 L177.14 10.92 L173.91 7.43 L178.58 6.50 Z" fill="#a8a8a8"/><path d="M201.30 2.35 L203.62 6.50 L208.29 7.43 L205.06 10.92 L205.62 15.65 L201.30 13.65 L196.98 15.65 L197.54 10.92 L194.31 7.43 L198.98 6.50 Z" fill="#a8a8a8"/></svg></div><div class="c e" style="top:3px">Уровень безработицы (янв)</div><div class="c v1"><span>6,7%</span></div><div class="c v2"><span>6,7%</span></div></div>
</body></html>
